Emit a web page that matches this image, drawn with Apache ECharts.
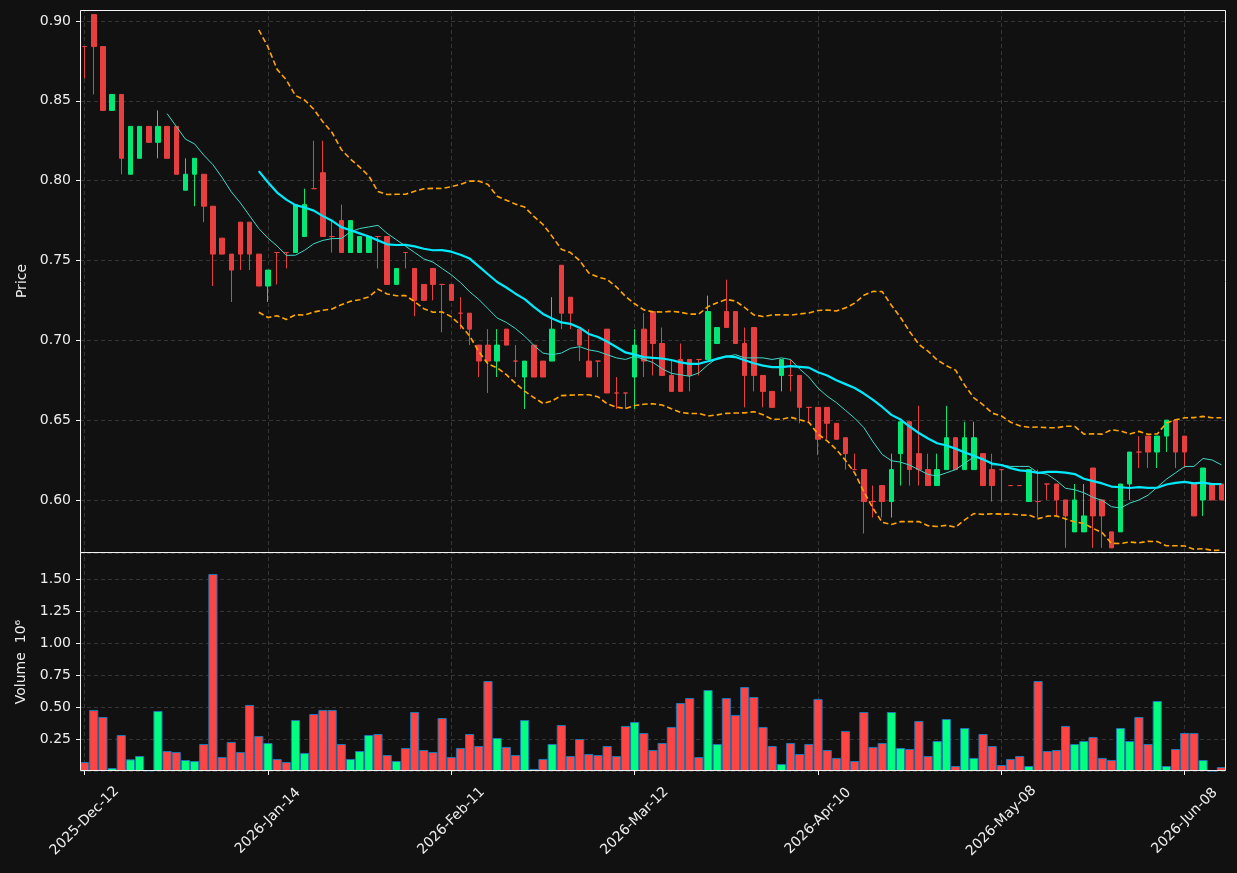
<!DOCTYPE html>
<html>
<head>
<meta charset="utf-8">
<script src="https://cdn.jsdelivr.net/npm/echarts@6/dist/echarts.min.js"></script>
<style>
html,body{margin:0;padding:0;background:#111111;}
#chart{width:1237px;height:873px;}
</style>
</head>
<body>
<div id="chart"></div>
<script>
// ---- data ----
const categories = [
 "2025-Dec-12","2025-Dec-15","2025-Dec-16","2025-Dec-17","2025-Dec-18","2025-Dec-19","2025-Dec-22","2025-Dec-23","2025-Dec-26","2025-Dec-29",
 "2025-Dec-30","2025-Dec-31","2026-Jan-02","2026-Jan-05","2026-Jan-06","2026-Jan-07","2026-Jan-08","2026-Jan-09","2026-Jan-12","2026-Jan-13",
 "2026-Jan-14","2026-Jan-15","2026-Jan-16","2026-Jan-19","2026-Jan-20","2026-Jan-21","2026-Jan-22","2026-Jan-23","2026-Jan-26","2026-Jan-27",
 "2026-Jan-28","2026-Jan-29","2026-Jan-30","2026-Feb-02","2026-Feb-03","2026-Feb-04","2026-Feb-05","2026-Feb-06","2026-Feb-09","2026-Feb-10",
 "2026-Feb-11","2026-Feb-12","2026-Feb-13","2026-Feb-17","2026-Feb-18","2026-Feb-19","2026-Feb-20","2026-Feb-23","2026-Feb-24","2026-Feb-25",
 "2026-Feb-26","2026-Feb-27","2026-Mar-02","2026-Mar-03","2026-Mar-04","2026-Mar-05","2026-Mar-06","2026-Mar-09","2026-Mar-10","2026-Mar-11",
 "2026-Mar-12","2026-Mar-13","2026-Mar-16","2026-Mar-17","2026-Mar-18","2026-Mar-19","2026-Mar-20","2026-Mar-23","2026-Mar-24","2026-Mar-25",
 "2026-Mar-26","2026-Mar-27","2026-Mar-30","2026-Mar-31","2026-Apr-01","2026-Apr-02","2026-Apr-06","2026-Apr-07","2026-Apr-08","2026-Apr-09",
 "2026-Apr-10","2026-Apr-13","2026-Apr-14","2026-Apr-15","2026-Apr-16","2026-Apr-17","2026-Apr-20","2026-Apr-21","2026-Apr-22","2026-Apr-23",
 "2026-Apr-24","2026-Apr-27","2026-Apr-28","2026-Apr-29","2026-Apr-30","2026-May-01","2026-May-04","2026-May-05","2026-May-06","2026-May-07",
 "2026-May-08","2026-May-11","2026-May-12","2026-May-13","2026-May-14","2026-May-15","2026-May-18","2026-May-19","2026-May-20","2026-May-21",
 "2026-May-22","2026-May-26","2026-May-27","2026-May-28","2026-May-29","2026-Jun-01","2026-Jun-02","2026-Jun-03","2026-Jun-04","2026-Jun-05",
 "2026-Jun-08","2026-Jun-09","2026-Jun-10","2026-Jun-11","2026-Jun-12"
];

const openP = [
 0.884,0.904,0.884,0.844,0.854,0.804,0.814,0.834,0.824,0.834,
 0.834,0.794,0.804,0.804,0.784,0.764,0.754,0.774,0.774,0.754,
 0.734,0.755,0.755,0.755,0.765,0.795,0.805,0.765,0.775,0.755,
 0.755,0.755,0.765,0.765,0.735,0.755,0.745,0.735,0.745,0.735,
 0.735,0.717,0.717,0.697,0.697,0.687,0.707,0.687,0.677,0.697,
 0.687,0.687,0.747,0.727,0.707,0.687,0.687,0.707,0.667,0.667,
 0.677,0.707,0.718,0.698,0.678,0.688,0.688,0.688,0.688,0.698,
 0.718,0.718,0.698,0.708,0.678,0.668,0.678,0.678,0.678,0.658,
 0.658,0.658,0.648,0.639,0.619,0.619,0.599,0.609,0.599,0.629,
 0.649,0.629,0.619,0.609,0.619,0.639,0.619,0.619,0.629,0.619,
 0.619,0.609,0.609,0.599,0.599,0.610,0.610,0.600,0.580,0.580,
 0.620,0.600,0.580,0.580,0.610,0.630,0.640,0.630,0.640,0.650,
 0.640,0.610,0.600,0.610,0.610
];
const highP = [
 0.884,0.904,0.884,0.854,0.854,0.834,0.834,0.834,0.844,0.834,
 0.834,0.814,0.814,0.804,0.784,0.764,0.754,0.774,0.774,0.754,
 0.744,0.755,0.755,0.785,0.795,0.825,0.825,0.775,0.785,0.775,
 0.765,0.765,0.765,0.765,0.745,0.755,0.745,0.735,0.745,0.735,
 0.735,0.727,0.717,0.697,0.707,0.707,0.707,0.697,0.687,0.697,
 0.687,0.727,0.747,0.727,0.707,0.707,0.687,0.707,0.677,0.667,
 0.707,0.717,0.718,0.708,0.688,0.698,0.688,0.688,0.728,0.708,
 0.738,0.718,0.708,0.708,0.678,0.668,0.688,0.688,0.678,0.658,
 0.658,0.658,0.648,0.639,0.629,0.619,0.609,0.609,0.629,0.649,
 0.649,0.659,0.629,0.629,0.659,0.639,0.649,0.649,0.629,0.629,
 0.619,0.609,0.609,0.619,0.619,0.610,0.610,0.600,0.610,0.610,
 0.620,0.600,0.580,0.610,0.630,0.640,0.640,0.640,0.650,0.650,
 0.640,0.610,0.620,0.610,0.610
];
const lowP = [
 0.864,0.854,0.844,0.844,0.804,0.804,0.814,0.824,0.814,0.814,
 0.804,0.794,0.784,0.774,0.734,0.754,0.724,0.744,0.744,0.734,
 0.724,0.735,0.745,0.755,0.765,0.795,0.765,0.755,0.755,0.755,
 0.755,0.755,0.745,0.735,0.735,0.745,0.715,0.725,0.725,0.705,
 0.725,0.707,0.697,0.677,0.667,0.677,0.697,0.677,0.657,0.677,
 0.677,0.687,0.707,0.707,0.687,0.677,0.677,0.667,0.657,0.657,
 0.657,0.677,0.678,0.678,0.668,0.668,0.668,0.678,0.688,0.698,
 0.708,0.698,0.658,0.668,0.658,0.658,0.668,0.668,0.648,0.648,
 0.628,0.638,0.638,0.619,0.619,0.579,0.589,0.589,0.589,0.609,
 0.609,0.609,0.609,0.609,0.619,0.619,0.619,0.619,0.609,0.599,
 0.599,0.609,0.609,0.599,0.589,0.600,0.590,0.570,0.580,0.580,
 0.570,0.570,0.570,0.580,0.600,0.620,0.620,0.620,0.630,0.620,
 0.620,0.590,0.590,0.600,0.600
];
const closeP = [
 0.884,0.884,0.844,0.854,0.814,0.834,0.834,0.824,0.834,0.814,
 0.804,0.804,0.814,0.784,0.754,0.754,0.744,0.754,0.754,0.734,
 0.744,0.755,0.755,0.785,0.785,0.795,0.765,0.765,0.755,0.775,
 0.765,0.765,0.765,0.735,0.745,0.755,0.725,0.725,0.735,0.735,
 0.725,0.717,0.707,0.687,0.687,0.697,0.697,0.687,0.687,0.677,
 0.677,0.707,0.717,0.717,0.697,0.677,0.687,0.667,0.667,0.667,
 0.697,0.687,0.698,0.678,0.668,0.668,0.678,0.688,0.718,0.708,
 0.708,0.698,0.678,0.678,0.668,0.658,0.688,0.678,0.658,0.658,
 0.638,0.648,0.638,0.629,0.619,0.599,0.599,0.599,0.619,0.649,
 0.619,0.619,0.609,0.619,0.639,0.619,0.639,0.639,0.609,0.609,
 0.619,0.609,0.609,0.619,0.599,0.610,0.600,0.590,0.600,0.590,
 0.590,0.590,0.570,0.610,0.630,0.630,0.630,0.640,0.650,0.630,
 0.630,0.590,0.620,0.600,0.600
];
// volume in millions
const volume = [
 0.070,0.477,0.422,0.023,0.281,0.091,0.117,0.005,0.469,0.156,
 0.148,0.086,0.078,0.211,1.539,0.109,0.227,0.148,0.516,0.273,
 0.219,0.094,0.070,0.398,0.141,0.445,0.477,0.477,0.211,0.094,
 0.156,0.281,0.289,0.125,0.078,0.180,0.461,0.164,0.148,0.414,
 0.109,0.180,0.289,0.195,0.703,0.258,0.188,0.125,0.398,0.016,
 0.094,0.211,0.359,0.117,0.250,0.133,0.125,0.195,0.117,0.352,
 0.383,0.297,0.164,0.219,0.344,0.531,0.570,0.109,0.633,0.211,
 0.570,0.438,0.656,0.578,0.344,0.195,0.055,0.219,0.133,0.211,
 0.563,0.164,0.102,0.313,0.078,0.461,0.188,0.219,0.461,0.180,
 0.172,0.391,0.117,0.234,0.406,0.039,0.336,0.102,0.289,0.195,
 0.047,0.094,0.117,0.039,0.703,0.156,0.164,0.352,0.211,0.234,
 0.266,0.102,0.086,0.336,0.234,0.422,0.211,0.547,0.039,0.172,
 0.297,0.297,0.086,0.002,0.031
];
const priceTicks = ["0.60","0.65","0.70","0.75","0.80","0.85","0.90"];
const volumeTicks = ["0.25","0.50","0.75","1.00","1.25","1.50"];
const maShort = 10, maLong = 20, bandK = 2;

// ---- overlays derived from the closes (moving averages, bands) ----
function sma(arr, n) {
  return arr.map((v, i) => {
    if (i < n - 1) return '-';
    let s = 0; for (let j = i - n + 1; j <= i; j++) s += arr[j];
    return s / n;
  });
}
function band(arr, n, k, sign) {
  return arr.map((v, i) => {
    if (i < n - 1) return '-';
    let s = 0; for (let j = i - n + 1; j <= i; j++) s += arr[j];
    const m = s / n;
    let q = 0; for (let j = i - n + 1; j <= i; j++) q += (arr[j] - m) * (arr[j] - m);
    return m + sign * k * Math.sqrt(q / n);
  });
}

const UP = '#02e775', DOWN = '#e73f3f';
const VUP = '#00ff80', VDOWN = '#ff4444';
const TXT = '#eeeeee', FRAME = '#f2f2f2', GRID = '#3a3a3a';
const FONT = 'DejaVu Sans';

const candleData = categories.map((d, i) => {
  const item = { value: [openP[i], closeP[i], lowP[i], highP[i]] };
  if (openP[i] === closeP[i]) {
    item.itemStyle = { color: DOWN, color0: DOWN, borderColor: DOWN, borderColor0: DOWN };
  }
  return item;
});
const volData = volume.map((v, i) => ({
  value: v,
  itemStyle: { color: closeP[i] > openP[i] ? VUP : VDOWN }
}));
const tickEvery = (idx) => idx % 20 === 0;
const vLines = categories.filter((c, i) => tickEvery(i)).map(c => ({ xAxis: c }));
const blank = categories.map(() => '-');

const chart = echarts.init(document.getElementById('chart'), null, { renderer: 'canvas' });
const gridLineStyle = { color: GRID, type: [4, 3], width: 0.9 };

const option = {
  backgroundColor: '#111111',
  animation: false,
  textStyle: { fontFamily: FONT },
  grid: [
    { left: 80, top: 10, width: 1146, height: 542 },
    { left: 80, top: 553, width: 1146, height: 218 }
  ],
  xAxis: [
    { type: 'category', gridIndex: 0, data: categories, boundaryGap: true,
      axisLine: { show: false }, axisTick: { show: false }, axisLabel: { show: false }, splitLine: { show: false } },
    { type: 'category', gridIndex: 1, data: categories, boundaryGap: true,
      axisLine: { show: false },
      axisTick: { show: true, alignWithLabel: true, interval: (i) => tickEvery(i), length: 4, lineStyle: { color: FRAME } },
      axisLabel: { show: true, interval: (i) => tickEvery(i), rotate: 45, align: 'center', verticalAlign: 'middle',
                   margin: 50, color: TXT, fontSize: 14, fontFamily: FONT },
      splitLine: { show: false } }
  ],
  yAxis: [
    { type: 'value', gridIndex: 0, min: 0.5674, max: 0.9069, splitNumber: 7, minInterval: 0.05, maxInterval: 0.05,
      axisLine: { show: false },
      axisTick: { show: true, length: 4, lineStyle: { color: FRAME } },
      axisLabel: { color: TXT, fontSize: 14, fontFamily: FONT, margin: 9, showMinLabel: false, showMaxLabel: false,
                   formatter: (v) => { const s = v.toFixed(2); return priceTicks.includes(s) ? s : ''; } },
      splitLine: { show: true, lineStyle: gridLineStyle },
      name: 'Price', nameLocation: 'middle', nameRotate: 90, nameGap: 50,
      nameTextStyle: { color: TXT, fontSize: 14, fontFamily: FONT } },
    { type: 'value', gridIndex: 1, min: 0, max: 1.703, splitNumber: 7, minInterval: 0.25, maxInterval: 0.25,
      axisLine: { show: false },
      axisTick: { show: true, length: 4, lineStyle: { color: FRAME } },
      axisLabel: { color: TXT, fontSize: 14, fontFamily: FONT, margin: 9, showMinLabel: false, showMaxLabel: false,
                   formatter: (v) => { const s = v.toFixed(2); return volumeTicks.includes(s) ? s : ''; } },
      splitLine: { show: true, lineStyle: gridLineStyle },
      name: 'Volume  10\u2076', nameLocation: 'middle', nameRotate: 90, nameGap: 52,
      nameTextStyle: { color: TXT, fontSize: 14, fontFamily: FONT } }
  ],
  series: [
    { type: 'line', xAxisIndex: 0, yAxisIndex: 0, data: blank, z: 0, silent: true, symbol: 'none',
      markLine: { z: 0, silent: true, symbol: ['none', 'none'], label: { show: false }, lineStyle: gridLineStyle, data: vLines } },
    { type: 'line', xAxisIndex: 1, yAxisIndex: 1, data: blank, z: 0, silent: true, symbol: 'none',
      markLine: { z: 0, silent: true, symbol: ['none', 'none'], label: { show: false }, lineStyle: gridLineStyle, data: vLines } },
    { name: 'OHLC', type: 'candlestick', xAxisIndex: 0, yAxisIndex: 0, data: candleData, barWidth: 5, z: 3,
      itemStyle: { color: UP, color0: DOWN, borderColor: UP, borderColor0: DOWN, borderWidth: 1 } },
    { name: 'MA10', type: 'line', xAxisIndex: 0, yAxisIndex: 0, data: sma(closeP, maShort), symbol: 'none', z: 4,
      lineStyle: { color: '#40d8c8', width: 1 } },
    { name: 'MA20', type: 'line', xAxisIndex: 0, yAxisIndex: 0, data: sma(closeP, maLong), symbol: 'none', z: 4,
      lineStyle: { color: '#00eaff', width: 2.2 } },
    { name: 'Upper', type: 'line', xAxisIndex: 0, yAxisIndex: 0, data: band(closeP, maLong, bandK, 1), symbol: 'none', z: 4,
      lineStyle: { color: '#ffa500', width: 1.6, type: [5.5, 3] } },
    { name: 'Lower', type: 'line', xAxisIndex: 0, yAxisIndex: 0, data: band(closeP, maLong, bandK, -1), symbol: 'none', z: 4,
      lineStyle: { color: '#ffa500', width: 1.6, type: [5.5, 3] } },
    { name: 'Volume', type: 'bar', xAxisIndex: 1, yAxisIndex: 1, data: volData, barWidth: '100%', z: 3,
      itemStyle: { borderColor: '#1f77b4', borderWidth: 1 } }
  ],
  graphic: [
    { type: 'rect', z: 100, silent: true, shape: { x: 80.5, y: 10.5, width: 1145, height: 542 },
      style: { fill: null, stroke: FRAME, lineWidth: 1 } },
    { type: 'rect', z: 100, silent: true, shape: { x: 80.5, y: 552.5, width: 1145, height: 218 },
      style: { fill: null, stroke: FRAME, lineWidth: 1 } }
  ]
};
chart.setOption(option);
</script>
</body>
</html>
